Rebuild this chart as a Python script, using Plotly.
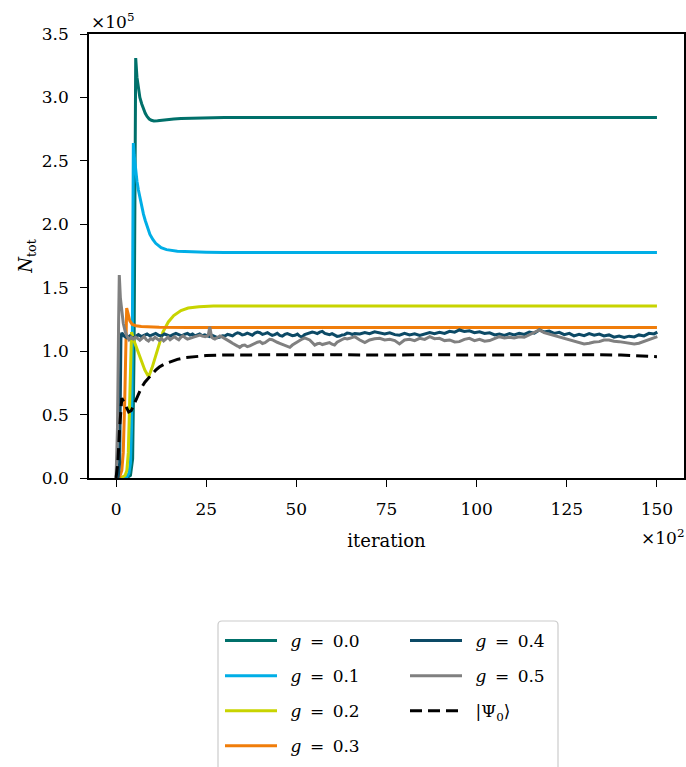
import plotly.graph_objects as go

FONT = "DejaVu Serif"
FS = 17

# ---------------- data (iteration in units of 1e2, N_tot in units of 1e5) ----------------
x_g00 = [0, 2, 3, 4, 4.6, 5.0, 5.2, 5.45, 5.8, 6.2, 6.6, 7.1, 7.6, 8.1, 8.6, 9.2, 9.8, 10.5, 11.5, 12.5, 14, 16, 18, 20, 25, 30, 50, 100, 150]
y_g00 = [0.0, 0.0, 0.002, 0.02, 0.15, 1.0, 2.6, 3.31, 3.16, 3.06, 3.0, 2.95, 2.91, 2.875, 2.85, 2.83, 2.82, 2.815, 2.816, 2.82, 2.826, 2.83, 2.834, 2.836, 2.84, 2.842, 2.842, 2.842, 2.842]

x_g01 = [0, 2, 3, 3.6, 4.0, 4.3, 4.5, 4.65, 4.8, 5.0, 5.3, 5.8, 6.2, 6.6, 7.1, 7.6, 8.1, 8.6, 9.4, 10.2, 11, 12.5, 14, 17, 20, 25, 30, 50, 150]
y_g01 = [0, 0.002, 0.01, 0.04, 0.12, 0.4, 1.0, 1.8, 2.64, 2.55, 2.45, 2.34, 2.27, 2.21, 2.14, 2.08, 2.03, 1.98, 1.92, 1.88, 1.85, 1.815, 1.80, 1.788, 1.783, 1.78, 1.778, 1.778, 1.778]

x_g02 = [0, 1.5, 2.5, 3.0, 3.4, 3.7, 4.0, 4.3, 5.0, 6.0, 7.0, 8.0, 8.8, 9.2, 10.0, 11.0, 12.0, 13.0, 14.5, 16, 18, 20, 23, 27, 35, 50, 150]
y_g02 = [0, 0.003, 0.02, 0.06, 0.2, 0.5, 0.9, 1.15, 1.08, 1.0, 0.92, 0.85, 0.81, 0.81, 0.87, 0.97, 1.07, 1.15, 1.23, 1.28, 1.32, 1.34, 1.35, 1.355, 1.356, 1.356, 1.356]

x_g03 = [0, 1.0, 1.6, 2.0, 2.4, 2.7, 2.95, 3.3, 3.8, 4.5, 5.5, 7, 9, 12, 20, 50, 150]
y_g03 = [0, 0.01, 0.06, 0.2, 0.6, 1.1, 1.34, 1.3, 1.24, 1.21, 1.2, 1.195, 1.19, 1.188, 1.187, 1.187, 1.187]

x_g04 = [0, 0.6, 1.0, 1.2, 1.35, 1.6, 2.2, 3.0, 3.8, 4.6, 5.4, 6.2, 7.0, 7.8, 8.6, 9.4, 10.2, 11.0, 11.8, 12.6,
         13.4, 14.2, 15.0, 15.8, 16.6, 17.4, 18.2, 19.0, 19.8,
         20.5, 21.2, 21.9, 22.6, 23.2, 23.9, 24.6, 25.3, 26.0, 26.7, 27.4, 28.1, 28.8, 29.5, 30.2, 30.9, 31.6, 32.3, 33.0, 33.7,
         34.3, 35.0, 35.7, 36.4, 37.1, 37.8, 38.5, 39.2, 39.9, 40.6, 41.3, 42.0, 42.6, 43.3, 44.0, 44.7,
         45.4, 46.1, 46.8, 47.5, 48.2, 48.9, 49.6, 50.3, 50.9, 51.6, 52.3, 53.0, 53.7, 54.4, 55.1, 55.8,
         56.5, 57.2, 57.9, 58.6, 59.2, 59.9, 60.6, 61.3, 62.0, 62.7, 63.4, 64.1, 64.8, 65.5, 66.2,
         67.6, 69.0, 70.3, 71.7, 73.1, 74.5, 75.9, 77.3, 78.6, 80.0, 81.4, 82.8, 84.2, 85.6, 87.0, 88.3,
         89.7, 91.1, 92.5, 93.9, 95.2, 96.6, 98.0, 99.4, 100.8, 102.2, 103.6, 105.0, 106.3, 107.7,
         109.1, 110.4, 111.8, 113.2, 114.6, 116.0, 117.4, 118.7, 120.1, 121.5, 122.9, 124.3, 125.7, 127.0,
         128.4, 129.8, 131.2, 132.6, 134.0, 135.3, 136.7, 138.1, 139.5, 140.9, 142.3, 143.7, 145.0, 146.4,
         147.8, 149.2, 150.1]
y_g04 = [0, 0.01, 0.12, 0.6, 1.1, 1.145, 1.12, 1.105, 1.12, 1.10, 1.115, 1.13, 1.115, 1.125, 1.135, 1.12, 1.13, 1.14, 1.125, 1.12,
         1.135, 1.128, 1.118, 1.13, 1.14, 1.13, 1.12, 1.132, 1.14,
         1.127, 1.135, 1.12, 1.13, 1.135, 1.122, 1.128, 1.12, 1.114, 1.124, 1.118, 1.106, 1.11, 1.122, 1.12, 1.132, 1.127, 1.12, 1.135, 1.145,
         1.14, 1.128, 1.132, 1.142, 1.135, 1.126, 1.142, 1.15, 1.145, 1.132, 1.138, 1.146, 1.135, 1.124, 1.13, 1.14,
         1.124, 1.118, 1.132, 1.138, 1.13, 1.122, 1.125, 1.134, 1.119, 1.112, 1.13, 1.138, 1.14, 1.15, 1.146, 1.138,
         1.15, 1.156, 1.14, 1.132, 1.13, 1.138, 1.125, 1.116, 1.119, 1.128, 1.13, 1.142, 1.14, 1.132, 1.138,
         1.135, 1.146, 1.138, 1.152, 1.144, 1.135, 1.145, 1.13, 1.126, 1.14, 1.128, 1.136, 1.124, 1.138, 1.146, 1.138,
         1.148, 1.14, 1.156, 1.15, 1.167, 1.155, 1.16, 1.146, 1.152, 1.14, 1.145, 1.128, 1.134, 1.124,
         1.138, 1.128, 1.14, 1.132, 1.15, 1.142, 1.167, 1.152, 1.158, 1.14, 1.148, 1.13, 1.14, 1.12,
         1.132, 1.122, 1.138, 1.126, 1.134, 1.12, 1.128, 1.11, 1.119, 1.108, 1.118, 1.112, 1.128, 1.12,
         1.14, 1.136, 1.15]

x_g05 = [0, 0.4, 0.7, 0.9, 1.2, 1.6, 2.0, 2.5, 3.0, 3.6, 4.2, 4.8, 5.4, 6.0, 6.6, 7.2, 7.8, 8.4, 9.0, 9.6, 10.2, 10.8, 11.4,
         12.0, 12.6, 13.2, 13.8, 14.4, 15.0, 15.6, 16.2, 16.8, 17.4, 18.0, 18.6, 19.2, 19.8,
         20.5, 21.2, 21.9, 22.6, 23.3, 24.0, 24.7, 25.3, 25.6, 26.0, 26.5, 27.0, 27.4, 28.1, 28.8, 29.5, 30.2, 30.9,
         31.6, 32.3, 33.0, 33.7, 34.3, 35.0, 35.7, 36.4, 37.1, 37.8, 38.5, 39.2, 39.9, 40.6, 41.3, 42.0,
         42.6, 43.3, 44.0, 44.7, 45.4, 46.1, 46.8, 47.5, 48.2, 48.9, 49.6, 50.3, 50.9, 51.6, 52.3, 53.0, 53.7, 54.4,
         55.1, 55.8, 56.5, 57.2, 57.9, 58.6, 59.2, 59.9, 60.6, 61.3, 62.0, 62.7, 63.4, 64.1, 64.8, 65.5, 66.2,
         67.6, 69.0, 70.3, 71.7, 73.1, 74.5, 75.9, 77.3, 78.6, 80.0, 81.4, 82.8, 84.2, 85.6, 87.0, 88.3,
         89.7, 91.1, 92.5, 93.9, 95.2, 96.6, 98.0, 99.4, 100.8, 102.2, 103.6, 105.0, 106.3, 107.7,
         109.1, 110.4, 111.8, 113.2, 114.6, 116.0, 117.4, 118.7, 120.1, 121.5, 122.9, 124.3, 125.7, 127.0,
         128.4, 129.8, 131.2, 132.6, 134.0, 135.3, 136.7, 138.1, 139.5, 140.9, 142.3, 143.7, 145.0, 146.4,
         147.8, 149.2, 150.1]
y_g05 = [0, 0.4, 1.2, 1.60, 1.42, 1.30, 1.22, 1.16, 1.12, 1.09, 1.11, 1.095, 1.11, 1.10, 1.085, 1.10, 1.115, 1.09, 1.08, 1.10, 1.09, 1.11, 1.095,
         1.085, 1.10, 1.08, 1.095, 1.11, 1.09, 1.10, 1.115, 1.10, 1.09, 1.11, 1.12, 1.105, 1.095,
         1.101, 1.11, 1.114, 1.12, 1.127, 1.118, 1.114, 1.12, 1.13, 1.193, 1.11, 1.1, 1.095, 1.108, 1.12, 1.11, 1.10, 1.085,
         1.075, 1.062, 1.048, 1.04, 1.03, 1.045, 1.048, 1.035, 1.041, 1.052, 1.062, 1.07, 1.075, 1.06, 1.067, 1.08,
         1.093, 1.09, 1.083, 1.07, 1.062, 1.055, 1.046, 1.038, 1.03, 1.048, 1.062, 1.075, 1.083, 1.095, 1.104, 1.096, 1.088, 1.068,
         1.048, 1.058, 1.062, 1.052, 1.057, 1.066, 1.067, 1.055, 1.048, 1.07, 1.083, 1.092, 1.101, 1.096, 1.101, 1.108, 1.114,
         1.088, 1.067, 1.088, 1.098, 1.101, 1.088, 1.093, 1.083, 1.057, 1.088, 1.093, 1.083, 1.101, 1.093, 1.114, 1.098,
         1.101, 1.083, 1.088, 1.072, 1.075, 1.093, 1.101, 1.083, 1.093, 1.078, 1.083, 1.098, 1.114, 1.104,
         1.109, 1.104, 1.114, 1.109, 1.127, 1.146, 1.167, 1.146, 1.135, 1.119, 1.109, 1.098, 1.088, 1.075,
         1.067, 1.057, 1.062, 1.072, 1.075, 1.088, 1.088, 1.078, 1.075, 1.070, 1.067, 1.057, 1.062, 1.078,
         1.093, 1.104, 1.114]

x_psi = [0, 0.5, 1.0, 1.4, 1.6, 2.5, 3.5, 4.2, 5, 6, 7, 8, 9, 10, 11, 12, 13.5, 15, 17, 19, 22, 25, 30, 40, 50, 60, 70, 80, 90, 100, 110, 120, 130, 140, 145, 150]
y_psi = [0, 0.12, 0.4, 0.6, 0.63, 0.58, 0.52, 0.53, 0.58, 0.65, 0.71, 0.755, 0.79, 0.82, 0.85, 0.875, 0.9, 0.915, 0.935, 0.948, 0.958, 0.965, 0.97, 0.972, 0.973, 0.972, 0.97, 0.972, 0.971, 0.97, 0.972, 0.97, 0.972, 0.97, 0.966, 0.956]

SP = "\u2002"
EQ = "\u2002=\u2002"
names = [SP + "<i>g</i>" + EQ + "0.0", SP + "<i>g</i>" + EQ + "0.1", SP + "<i>g</i>" + EQ + "0.2",
         SP + "<i>g</i>" + EQ + "0.3", SP + "<i>g</i>" + EQ + "0.4", SP + "<i>g</i>" + EQ + "0.5",
         SP + "|Ψ<sub>0</sub>⟩"]
colors = ["#00706a", "#00aee6", "#c8d400", "#f07d0a", "#0c4a66", "#808080", "#000000"]
xs = [x_g00, x_g01, x_g02, x_g03, x_g04, x_g05, x_psi]
ys = [y_g00, y_g01, y_g02, y_g03, y_g04, y_g05, y_psi]
legends = ["legend", "legend", "legend", "legend", "legend2", "legend2", "legend2"]

fig = go.Figure()
for i in range(7):
    fig.add_trace(go.Scatter(
        x=xs[i], y=ys[i], mode="lines", name=names[i],
        legend=legends[i], legendgroup=f"g{i}",
        line=dict(color=colors[i], width=3, dash="12px,6px" if i == 6 else "solid"),
    ))

L, R, T, B = 89, 2, 34, 289
W, H = 686, 767
pw, ph = W - L - R, H - T - B

def px2paper_x(px):
    return (px - L) / pw

def py2paper_y(py):
    return (H - B - py) / ph

axis_common = dict(
    showline=True, linecolor="black", linewidth=1.6, mirror=True,
    ticks="outside", ticklen=7, tickwidth=1.4, tickcolor="black",
    showgrid=False, zeroline=False,
    tickfont=dict(family=FONT, size=FS, color="black"),
)

fig.update_layout(
    width=W, height=H,
    margin=dict(l=L, r=R, t=T, b=B, autoexpand=False),
    paper_bgcolor="white", plot_bgcolor="white",
    font=dict(family=FONT, size=FS, color="black"),
    showlegend=True,
    xaxis=dict(range=[-7.5, 157.5], tickvals=[0, 25, 50, 75, 100, 125, 150],
               title=dict(text="iteration", font=dict(family=FONT, size=18), standoff=16),
               ticklabelstandoff=8, automargin=False, **axis_common),
    yaxis=dict(range=[0, 3.5], tickvals=[0, 0.5, 1, 1.5, 2, 2.5, 3, 3.5], tickformat=".1f",
               title=dict(text="<i>N</i><sub>tot</sub>", font=dict(family=FONT, size=18), standoff=4),
               ticklabelstandoff=8, automargin=False, **axis_common),
    legend=dict(x=px2paper_x(220), y=py2paper_y(623), xanchor="left", yanchor="top",
                bgcolor="rgba(0,0,0,0)", borderwidth=0, tracegroupgap=10,
                font=dict(family=FONT, size=FS), itemwidth=52),
    legend2=dict(x=px2paper_x(405), y=py2paper_y(623), xanchor="left", yanchor="top",
                 bgcolor="rgba(0,0,0,0)", borderwidth=0, tracegroupgap=10,
                 font=dict(family=FONT, size=FS), itemwidth=52),
)

# legend frame (rounded rectangle)
x0, x1 = px2paper_x(218), px2paper_x(558)
y0, y1 = py2paper_y(621), py2paper_y(790)
rx, ry = 4 / pw, 4 / ph
path = (f"M {x0+rx},{y0} L {x1-rx},{y0} Q {x1},{y0} {x1},{y0-ry} L {x1},{y1+ry} Q {x1},{y1} {x1-rx},{y1} "
        f"L {x0+rx},{y1} Q {x0},{y1} {x0},{y1+ry} L {x0},{y0-ry} Q {x0},{y0} {x0+rx},{y0} Z")
fig.add_shape(type="path", path=path, xref="paper", yref="paper",
              line=dict(color="#cccccc", width=1.2), fillcolor="rgba(255,255,255,0)", layer="below")

fig.add_annotation(text="×10<sup>5</sup>", xref="paper", yref="paper", x=0, y=1,
                   xanchor="left", yanchor="bottom", showarrow=False,
                   font=dict(family=FONT, size=FS), yshift=0)
fig.add_annotation(text="×10<sup>2</sup>", xref="paper", yref="paper", x=px2paper_x(686), y=py2paper_y(537),
                   xanchor="right", yanchor="middle", showarrow=False,
                   font=dict(family=FONT, size=FS))

fig.write_html("out.html")
